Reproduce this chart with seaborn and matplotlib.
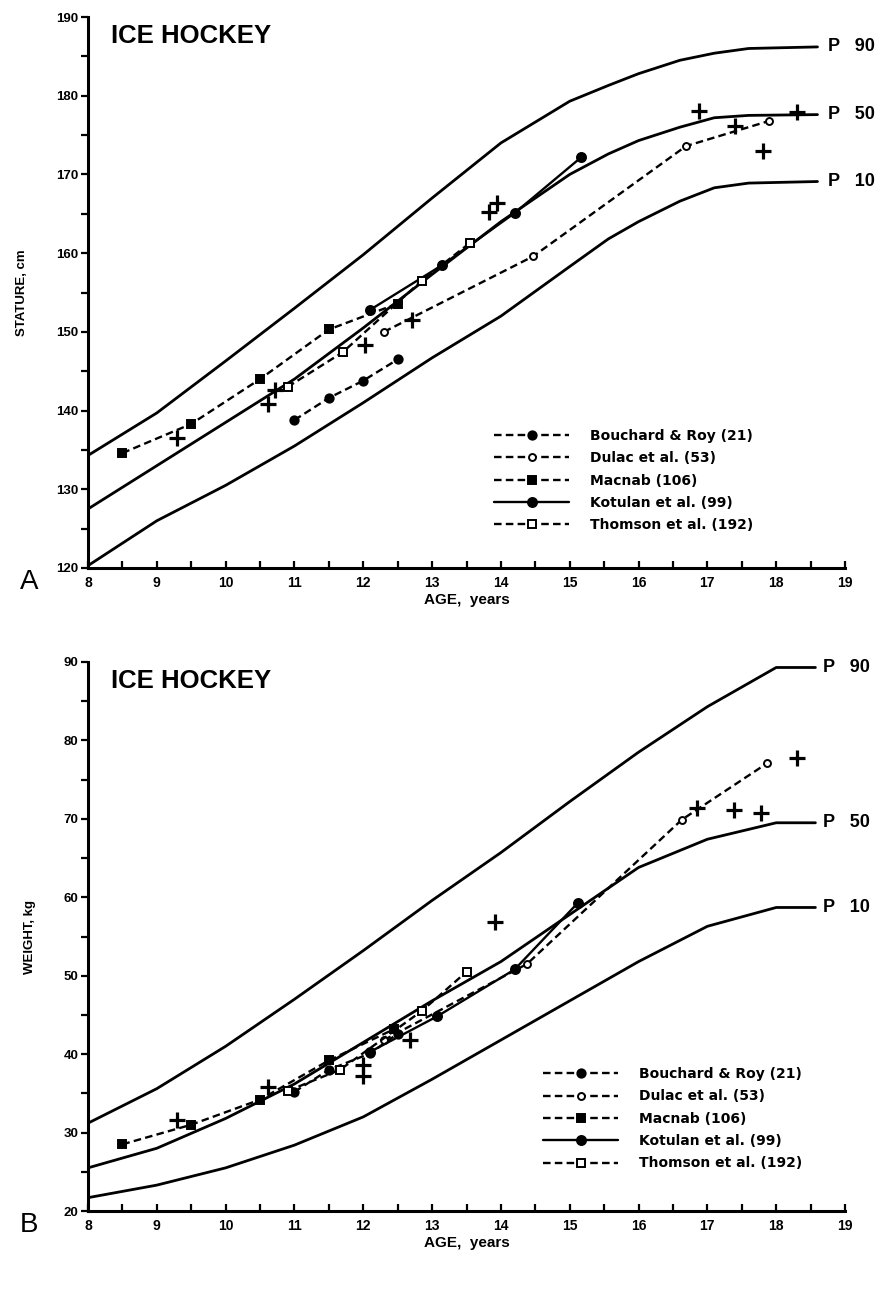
import numpy as np
import pandas as pd
import matplotlib
matplotlib.use("Agg")
import matplotlib.pyplot as plt
import seaborn as sns
from matplotlib.ticker import MultipleLocator

sns.set_theme(style="white")
plt.rcParams['font.family'] = ['Liberation Sans', 'DejaVu Sans']
plt.rcParams.update({"text.color": "black", "axes.labelcolor": "black",
                     "xtick.color": "black", "ytick.color": "black"})

# ---------------- Panel A: stature (cm) ----------------
p_age_A = [8, 9, 10, 11, 12, 13, 14, 15, 15.56, 16, 16.6, 17.1, 17.6, 18.6]
p90_A = [134.3, 139.7, 146.3, 153.0, 159.8, 167.0, 174.0, 179.3, 181.3, 182.8, 184.5, 185.4, 186.0, 186.2]
p50_A = [127.5, 133.0, 138.5, 144.0, 150.5, 157.3, 164.0, 170.0, 172.6, 174.3, 176.0, 177.2, 177.5, 177.6]
p10_A = [120.3, 126.0, 130.5, 135.5, 141.0, 146.7, 152.0, 158.3, 161.8, 164.0, 166.6, 168.3, 168.9, 169.1]

bouchard_age_A = [11.0, 11.5, 12.0, 12.5]
bouchard_A = [138.8, 141.6, 143.8, 146.5]
dulac_age_A = [12.3, 14.47, 16.69, 17.9]
dulac_A = [150.0, 159.6, 173.6, 176.8]
macnab_age_A = [8.5, 9.5, 10.5, 11.5, 12.5]
macnab_A = [134.6, 138.3, 144.0, 150.3, 153.6]
kotulan_age_A = [12.1, 13.15, 14.2, 15.17]
kotulan_A = [152.8, 158.5, 165.1, 172.2]
thomson_age_A = [10.9, 11.7, 12.85, 13.55]
thomson_A = [143.0, 147.4, 156.5, 161.3]
plus_age_A = [9.3, 10.62, 10.72, 12.03, 12.71, 13.82, 13.95, 16.88, 17.4, 17.81, 18.3]
plus_A = [136.5, 140.8, 142.6, 148.3, 151.5, 165.2, 166.4, 178.1, 176.2, 173.0, 177.9]

# ---------------- Panel B: weight (kg) ----------------
p_age_B = [8, 9, 10, 11, 12, 13, 14, 15, 16, 17, 18, 18.57]
p90_B = [31.2, 35.6, 41.0, 47.0, 53.2, 59.6, 65.7, 72.2, 78.5, 84.3, 89.3, 89.3]
p50_B = [25.5, 28.0, 31.8, 36.2, 41.5, 46.8, 51.8, 57.8, 63.8, 67.4, 69.5, 69.5]
p10_B = [21.7, 23.3, 25.5, 28.4, 32.0, 36.8, 41.8, 46.8, 51.8, 56.3, 58.7, 58.7]

bouchard_age_B = [11.0, 11.5, 12.1, 12.5]
bouchard_B = [35.2, 38.0, 40.1, 42.6]
dulac_age_B = [12.3, 14.38, 16.63, 17.87]
dulac_B = [41.8, 51.5, 69.9, 77.1]
macnab_age_B = [8.5, 9.5, 10.5, 11.5, 12.45]
macnab_B = [28.5, 31.0, 34.2, 39.2, 43.2]
kotulan_age_B = [12.1, 13.07, 14.2, 15.12]
kotulan_B = [40.3, 44.8, 50.8, 59.3]
thomson_age_B = [10.9, 11.66, 12.85, 13.5]
thomson_B = [35.3, 38.0, 45.5, 50.5]
plus_age_B = [9.3, 10.62, 12.0, 12.0, 12.68, 13.92, 16.85, 17.38, 17.78, 18.3]
plus_B = [31.6, 35.8, 37.2, 38.6, 41.8, 56.9, 71.4, 71.1, 70.7, 77.7]

legend_labels = ["Bouchard & Roy (21)", "Dulac et al. (53)", "Macnab (106)",
                 "Kotulan et al. (99)", "Thomson et al. (192)"]
x_ticks = list(range(8, 20))

fig = plt.figure(figsize=(8.86, 12.92), dpi=100)
axA = fig.add_axes([88/886, 1-568/1292, 757/886, 551/1292])
axB = fig.add_axes([88/886, 1-1211/1292, 757/886, 549/1292])

def draw_panel(ax, p_age, p90, p50, p10, series, plus_age, plus_v,
               ylim, ylabel, leg_anchor, p_label_x, letter):
    for vals in (p90, p50, p10):
        sns.lineplot(x=p_age, y=vals, ax=ax, color="black", lw=2.0,
                     estimator=None, sort=False, legend=False)
    styles = [
        dict(ls=(0, (3.2, 1.8)), marker="o", mfc="black", ms=6),
        dict(ls=(0, (3.2, 1.8)), marker="o", mfc="white", ms=5),
        dict(ls=(0, (3.2, 1.8)), marker="s", mfc="black", ms=6),
        dict(ls="-", marker="o", mfc="black", ms=6.5),
        dict(ls=(0, (3.2, 1.8)), marker="s", mfc="white", ms=5.5),
    ]
    for (ages, vals), lab, st in zip(series, legend_labels, styles):
        sns.lineplot(x=ages, y=vals, ax=ax, color="black", lw=1.7,
                     linestyle=st["ls"], marker=st["marker"],
                     markerfacecolor=st["mfc"], markeredgecolor="black",
                     markeredgewidth=1.4, markersize=st["ms"],
                     estimator=None, sort=False, label=lab)
    sns.scatterplot(x=plus_age, y=plus_v, ax=ax, marker="+", s=120,
                    color="black", linewidth=2.3, legend=False, zorder=5)

    ax.set_xlim(8, 19)
    ax.set_ylim(*ylim)
    ax.set_xticks(x_ticks)
    ax.set_xticklabels([str(t) for t in x_ticks], fontsize=10, fontweight="bold")
    ax.xaxis.set_minor_locator(MultipleLocator(0.5))
    ax.yaxis.set_major_locator(MultipleLocator(10))
    ax.yaxis.set_minor_locator(MultipleLocator(5))
    ax.tick_params(axis="x", which="both", direction="in", length=5, width=1.6,
                   bottom=True, pad=6)
    ax.tick_params(axis="y", which="both", direction="out", length=5, width=1.6,
                   left=True, pad=2, labelsize=9.5)
    for lbl in ax.get_yticklabels():
        lbl.set_fontweight("bold")
    for side in ("top", "right"):
        ax.spines[side].set_visible(False)
    for side in ("left", "bottom"):
        ax.spines[side].set_linewidth(2.2)
        ax.spines[side].set_color("black")
    ax.set_xlabel("AGE,  years", fontsize=11, fontweight="bold", labelpad=2)
    ax.set_ylabel(ylabel, fontsize=9.5, fontweight="bold", labelpad=20)

    ax.legend(loc="upper left", bbox_to_anchor=leg_anchor, frameon=False,
              handlelength=5.4, handletextpad=1.5, labelspacing=0.6,
              prop=dict(family="DejaVu Sans", size=10, weight="bold"))
    ax.text(0.03, 0.988, "ICE HOCKEY", transform=ax.transAxes, fontsize=18.5,
            fontweight="bold", va="top", ha="left")
    for vals, name in ((p90, "90"), (p50, "50"), (p10, "10")):
        ax.text(p_label_x, vals[-1], "P   " + name, fontsize=13, fontweight="bold",
                va="center", ha="left", clip_on=False)
    ax.text(-0.09, -0.025, letter, transform=ax.transAxes, fontsize=20,
            va="center", ha="left")

seriesA = [(bouchard_age_A, bouchard_A), (dulac_age_A, dulac_A), (macnab_age_A, macnab_A),
           (kotulan_age_A, kotulan_A), (thomson_age_A, thomson_A)]
seriesB = [(bouchard_age_B, bouchard_B), (dulac_age_B, dulac_B), (macnab_age_B, macnab_B),
           (kotulan_age_B, kotulan_B), (thomson_age_B, thomson_B)]

draw_panel(axA, p_age_A, p90_A, p50_A, p10_A, seriesA, plus_age_A, plus_A,
           (120, 190), "STATURE, cm", (0.52, 0.275), 18.75, "A")
draw_panel(axB, p_age_B, p90_B, p50_B, p10_B, seriesB, plus_age_B, plus_B,
           (20, 90), "WEIGHT, kg", (0.585, 0.285), 18.68, "B")

fig.savefig("out.png", dpi=100)
